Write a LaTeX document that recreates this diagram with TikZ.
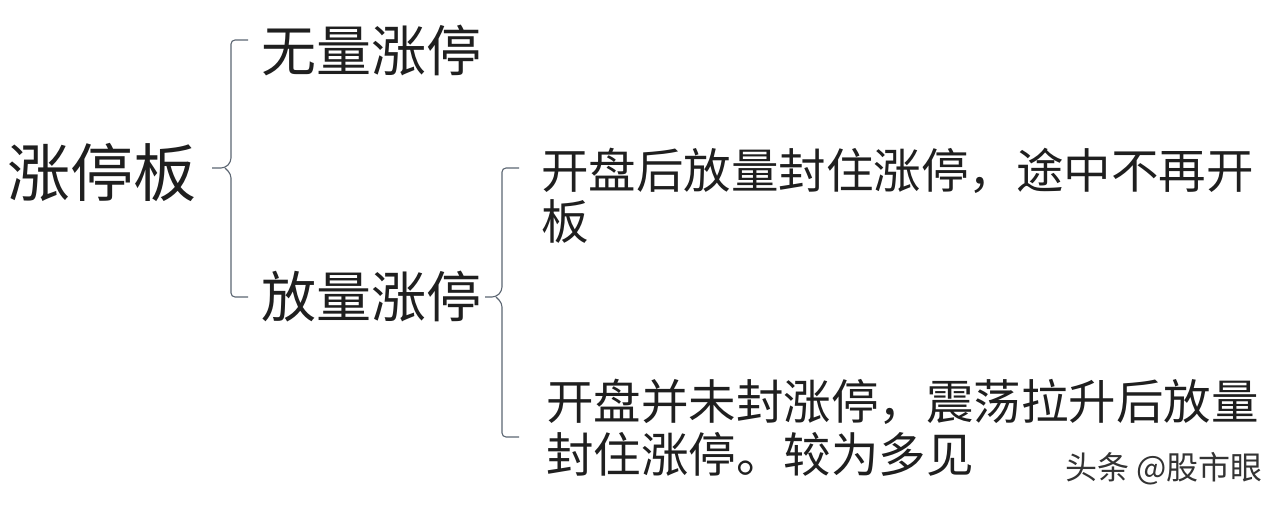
\documentclass[tikz,border=0pt]{standalone}
\usepackage{fontspec}
\newfontfamily\cjk{Noto Sans CJK SC}
\definecolor{bracecol}{RGB}{92,102,114}
\begin{document}
\begin{tikzpicture}[x=1pt,y=-1pt,
  txt/.style={anchor=west,inner sep=0pt,text=black!88,font=\cjk\fontsize{#1}{#1}\selectfont},
  brace/.style={draw=bracecol,line width=1.1pt,rounded corners=4pt}]
\fill[white] (0,0) rectangle (1280,504);
\useasboundingbox (0,0) rectangle (1280,504);
% texts
\node[txt=63] (root) at (7,172) {涨停板};
\node[txt=55] (a) at (261,50) {无量涨停};
\node[txt=55] (b) at (261,297) {放量涨停};
\node[txt=47.5,align=left] (b1) at (541,196) {开盘后放量封住涨停，途中不再开\\[4pt]板};
\node[txt=47.5,align=left] (b2) at (546,428) {开盘并未封涨停，震荡拉升后放量\\[6pt]封住涨停。较为多见};
\node[anchor=east,inner sep=0pt,text=black!80,font=\cjk\fontsize{32}{32}\selectfont] (wm) at (1263,469) {头条 @股市眼};
% bracket 1
\coordinate (t1) at (248,40);
\coordinate (m1) at (212,168);
\coordinate (e1) at (248,297);
\draw[brace] (t1) -- (231,40) -- (231,162) -- (225,168) -- (m1);
\draw[brace] (225,168) -- (231,174) -- (231,297) -- (e1);
% bracket 2
\coordinate (t2) at (519,168);
\coordinate (m2) at (485,297);
\coordinate (e2) at (519,437);
\draw[brace] (t2) -- (502,168) -- (502,291) -- (496,297) -- (m2);
\draw[brace] (496,297) -- (502,303) -- (502,437) -- (e2);
\end{tikzpicture}
\end{document}
